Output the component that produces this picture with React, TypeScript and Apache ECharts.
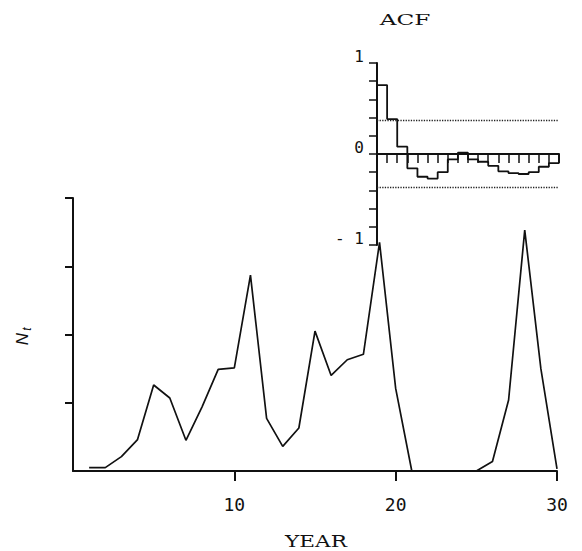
import React, { useEffect, useRef } from "react";
import * as echarts from "echarts";

// Main series: N_t by year
const years: number[] = [
  1, 2, 3, 4, 5, 6, 7, 8, 9, 10, 11, 12, 13, 14, 15, 16, 17, 18, 19, 20,
  21, 22, 23, 24, 25, 26, 27, 28, 29, 30,
];
const nValues: number[] = [
  0.05, 0.05, 0.21, 0.46, 1.26, 1.07, 0.45, 0.94, 1.49, 1.51, 2.87, 0.77,
  0.36, 0.63, 2.05, 1.4, 1.63, 1.71, 3.35, 1.21, 0, 0, 0, 0, 0, 0.14, 1.04,
  3.53, 1.5, 0.03,
];
const xTickLabels: number[] = [10, 20, 30];
const yTicks: number[] = [1, 2, 3, 4];

// ACF inset
const lags: number[] = [1, 2, 3, 4, 5, 6, 7, 8, 9, 10, 11, 12, 13, 14, 15, 16, 17, 18];
const acfValues: number[] = [
  0.757, 0.384, 0.08, -0.157, -0.25, -0.27, -0.2, -0.06, 0.015, -0.06, -0.085,
  -0.13, -0.19, -0.21, -0.22, -0.2, -0.14, -0.1,
];
const acfBounds: number[] = [0.37, -0.37];
const acfTickValues: number[] = [-1, -0.8, -0.6, -0.4, -0.2, 0, 0.2, 0.4, 0.6, 0.8, 1];
const acfLabelValues: number[] = [-1, 0, 1];

export default function App() {
  const ref = useRef<HTMLDivElement>(null);

  useEffect(() => {
    if (!ref.current) return;
    const chart = echarts.init(ref.current, undefined, { renderer: "svg" });

    const mainData = years.map((y, i) => [y, nValues[i]]);
    // step outline of the ACF
    const stepData: number[][] = [[0, 0]];
    lags.forEach((lag, i) => {
      stepData.push([lag - 1, acfValues[i]]);
      stepData.push([lag, acfValues[i]]);
    });
    stepData.push([lags[lags.length - 1], 0]);

    const ink = "#111";
    const numFont = "DejaVu Sans Mono";
    const titleFont = "DejaVu Serif";

    chart.setOption({
      animation: false,
      backgroundColor: "#fff",
      grid: [
        { left: 73, right: 25, top: 198, bottom: 80 },
        { left: 377, right: 23, top: 63, bottom: 306 },
      ],
      xAxis: [
        {
          type: "value",
          gridIndex: 0,
          min: 0,
          max: 30,
          interval: 10,
          splitLine: { show: false },
          axisLine: { show: true, onZero: false, lineStyle: { color: ink, width: 2 } },
          axisTick: { show: true, length: 10, customValues: xTickLabels, lineStyle: { color: ink, width: 2 } },
          axisLabel: {
            show: true,
            customValues: xTickLabels,
            margin: 24,
            color: ink,
            fontFamily: numFont,
            fontSize: 18,
          },
        },
        {
          type: "value",
          gridIndex: 1,
          min: 0,
          max: 18,
          interval: 1,
          splitLine: { show: false },
          axisLine: { show: true, onZero: true, lineStyle: { color: ink, width: 2 } },
          axisTick: { show: true, length: 9, lineStyle: { color: ink, width: 1.5 } },
          axisLabel: { show: false },
        },
      ],
      yAxis: [
        {
          type: "value",
          gridIndex: 0,
          min: 0,
          max: 4,
          interval: 1,
          splitLine: { show: false },
          axisLine: { show: true, onZero: false, lineStyle: { color: ink, width: 2 } },
          axisTick: { show: true, length: 8, customValues: yTicks, lineStyle: { color: ink, width: 2 } },
          axisLabel: { show: false },
        },
        {
          type: "value",
          gridIndex: 1,
          min: -1,
          max: 1,
          interval: 0.2,
          splitLine: { show: false },
          axisLine: { show: true, onZero: false, lineStyle: { color: ink, width: 2 } },
          axisTick: { show: true, length: 8, customValues: acfTickValues, lineStyle: { color: ink, width: 1.5 } },
          axisLabel: {
            show: true,
            customValues: acfLabelValues,
            margin: 13,
            color: ink,
            fontFamily: numFont,
            fontSize: 16,
            verticalAlign: "bottom",
            lineHeight: 14,
            formatter: (v: number) => (v < 0 ? "- " + Math.abs(v) : String(v)),
          },
        },
      ],
      series: [
        {
          type: "line",
          xAxisIndex: 0,
          yAxisIndex: 0,
          data: mainData,
          showSymbol: false,
          symbol: "none",
          lineStyle: { color: ink, width: 1.7 },
          z: 2,
        },
        {
          type: "line",
          xAxisIndex: 1,
          yAxisIndex: 1,
          data: stepData,
          showSymbol: false,
          symbol: "none",
          lineStyle: { color: ink, width: 1.8 },
          z: 3,
          markLine: {
            silent: true,
            symbol: "none",
            label: { show: false },
            lineStyle: { color: "#222", type: [1.3, 1.3], width: 1.3 },
            data: acfBounds.map((b) => ({ yAxis: b })),
          },
        },
      ],
      graphic: [
        {
          type: "text",
          x: 316,
          y: 541,
          scaleX: 1.35,
          style: {
            text: "YEAR",
            fontFamily: titleFont,
            fontSize: 16,
            fill: ink,
            align: "center",
            verticalAlign: "middle",
          },
        },
        {
          type: "text",
          x: 405,
          y: 20,
          scaleX: 1.55,
          style: {
            text: "ACF",
            fontFamily: titleFont,
            fontSize: 15,
            fill: ink,
            align: "center",
            verticalAlign: "middle",
          },
        },
        {
          type: "group",
          x: 22,
          y: 339,
          rotation: Math.PI / 2,
          children: [
            {
              type: "text",
              x: 0,
              y: 0,
              style: {
                text: "N",
                fontFamily: "Liberation Sans",
                fontStyle: "italic",
                fontSize: 17,
                fill: ink,
                align: "center",
                verticalAlign: "middle",
              },
            },
            {
              type: "text",
              x: 10,
              y: 5,
              style: {
                text: "t",
                fontFamily: "Liberation Sans",
                fontStyle: "italic",
                fontSize: 12,
                fill: ink,
                align: "center",
                verticalAlign: "middle",
              },
            },
          ],
        },
      ],
    });

    return () => chart.dispose();
  }, []);

  return (
    <div
      ref={ref}
      style={{ position: "fixed", left: 0, top: 0, width: 582, height: 551 }}
    />
  );
}
